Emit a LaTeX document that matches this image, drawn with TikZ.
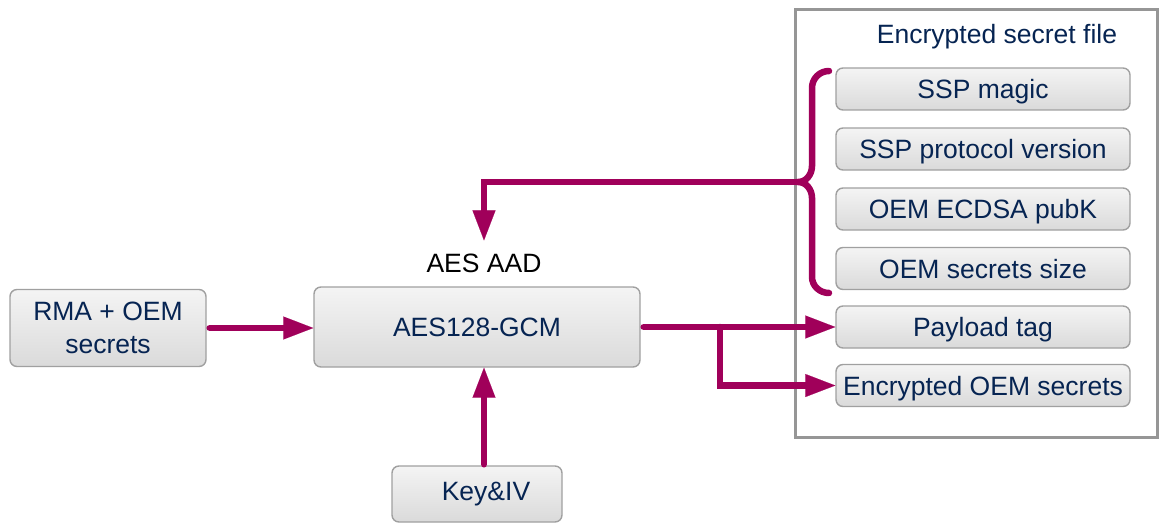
\documentclass[tikz,border=0pt]{standalone}
\usepackage{fontspec}
\setmainfont{Liberation Sans}
\usetikzlibrary{arrows.meta}
\definecolor{navy}{RGB}{6,36,82}
\definecolor{flowcol}{RGB}{160,0,90}
\definecolor{boxedge}{RGB}{160,160,160}
\definecolor{boxtop}{RGB}{244,244,244}
\definecolor{boxbot}{RGB}{218,218,218}
\definecolor{framecol}{RGB}{150,150,150}
\tikzset{
  blk/.style={draw=boxedge, line width=1.4pt, rounded corners=7pt,
    top color=boxtop, bottom color=boxbot, text=navy,
    font=\fontsize{26.5}{33}\selectfont, inner sep=0pt, align=center},
  field/.style={blk, minimum width=294pt, minimum height=42pt,
    text height=19pt, text depth=0pt},
  flow/.style={draw=flowcol, line width=6.5pt, line cap=round,
    -{Triangle[length=30pt,width=23pt,line width=0.1pt]}},
  bracepath/.style={draw=flowcol, line width=6.5pt, line cap=round},
  frame/.style={draw=framecol, line width=3pt, inner sep=0pt},
  lbl/.style={font=\fontsize{26.5}{33}\selectfont, inner sep=0pt}
}
\begin{document}
\begin{tikzpicture}[x=1pt,y=-1pt]
\useasboundingbox (0,0) rectangle (1159,524);

% container for the encrypted file
\node[frame, minimum width=362pt, minimum height=427pt] (file) at (976,223.5) {};
\node[lbl, text=navy] (title) at (997,37) {Encrypted secret file};

% file fields
\node[field] (magic)   at (983,89)    {SSP magic};
\node[field] (version) at (983,149)   {SSP protocol version};
\node[field] (pubk)    at (983,209)   {OEM ECDSA pubK};
\node[field] (size)    at (983,268.5) {OEM secrets size};
\node[field] (tag)     at (983,327)   {Payload tag};
\node[field] (encsec)  at (983,385.5) {Encrypted OEM secrets};

% inputs and cipher
\node[blk, minimum width=196pt, minimum height=77pt] (rma) at (108,328) {RMA + OEM\\secrets};
\node[blk, minimum width=326pt, minimum height=80pt] (aes) at (477,327) {AES128-GCM};
\node[blk, minimum width=170pt, minimum height=56pt] (key) at (477,494) {\hspace{18pt}Key\&IV};
\node[lbl, inner sep=13pt] (aad) at (484,263) {AES AAD};

% brace grouping the header fields
\draw[bracepath] (829,71) to[out=180,in=90] (812,88) -- (812,166)
  to[out=-90,in=0] (798,182) to[out=0,in=90] (812,198) -- (812,277)
  to[out=-90,in=180] (829,293);
\coordinate (bt) at (800,182);

% data flow
\draw[flow] (bt) -| (aad.north);
\draw[flow, shorten <=3pt] (rma.east) -- (rma.east -| aes.west);
\draw[flow, shorten <=1pt] (key.north -| aad.north) -- (aes.south -| aad.north);
\draw[flow, shorten <=3pt] (aes.east) -- (tag.west);
\coordinate (split) at (720,327);
\draw[flow] (split) |- (encsec.west);
\end{tikzpicture}
\end{document}
